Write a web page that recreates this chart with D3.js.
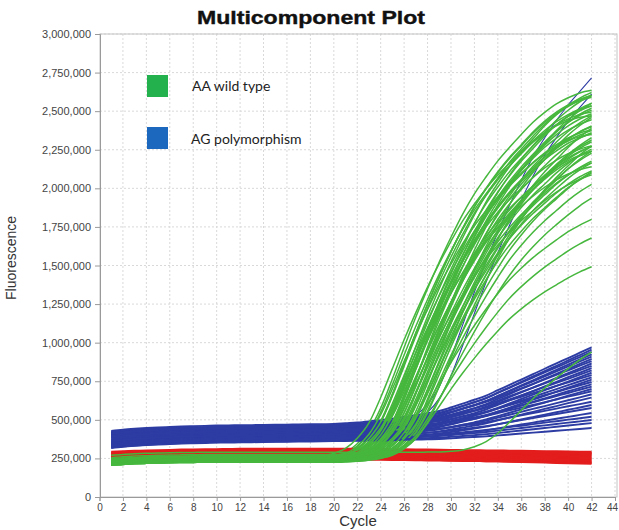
<!DOCTYPE html>
<html>
<head>
<meta charset="utf-8">
<script src="https://cdn.jsdelivr.net/npm/d3@7"></script>
<style>
  body { margin: 0; background: #fff; }
  svg { display: block; }
</style>
</head>
<body>
<svg id="chart" width="619" height="530"></svg>
<script>
// ---- Data (fluorescence in thousands, one value per cycle) ----
const cycles = [1,2,3,4,5,6,7,8,9,10,11,12,13,14,15,16,17,18,19,20,21,22,23,24,25,26,27,28,29,30,31,32,33,34,35,36,37,38,39,40,41,42];
const xTicks = [0,2,4,6,8,10,12,14,16,18,20,22,24,26,28,30,32,34,36,38,40,42,44];
const yTicks = [0,250000,500000,750000,1000000,1250000,1500000,1750000,2000000,2250000,2500000,2750000,3000000];
const legendLabels = ["AA wild type", "AG polymorphism"];
const unit = 1000;

// AA wild type wells (FAM-like signal, green)
const wildType = [
[230,236,240,243,245,247,248,249,250,250,250,250,250,250,250,250,250,252,256,267,290,345,433,576,766,969,1166,1350,1523,1683,1833,1964,2075,2178,2266,2349,2428,2492,2547,2587,2618,2635],
[220,226,230,233,235,237,238,239,240,240,240,240,240,240,240,240,240,242,246,256,278,330,413,548,728,920,1106,1280,1444,1595,1736,1860,1966,2063,2146,2225,2299,2360,2411,2450,2479,2495],
[240,246,250,253,255,257,258,259,260,260,260,260,260,260,260,260,260,260,263,269,283,318,388,493,668,866,1064,1250,1425,1588,1740,1879,1996,2101,2194,2275,2357,2427,2485,2532,2567,2590],
[210,216,220,223,225,227,228,229,230,230,230,230,230,230,230,230,230,230,233,239,252,284,348,445,606,789,972,1144,1305,1456,1595,1724,1832,1929,2015,2090,2165,2230,2283,2326,2359,2380],
[235,241,245,248,250,252,253,254,255,255,255,255,255,255,255,255,255,255,258,264,278,312,380,483,654,848,1042,1224,1395,1555,1703,1840,1954,2056,2147,2227,2307,2375,2432,2478,2512,2535],
[225,231,235,238,240,242,243,244,245,245,245,245,245,245,245,245,245,245,247,251,261,284,337,422,560,744,940,1131,1308,1476,1630,1775,1901,2009,2108,2193,2274,2350,2412,2465,2504,2534],
[245,251,255,258,260,262,263,264,265,265,265,265,265,265,265,265,265,265,267,271,280,301,349,427,553,721,899,1074,1235,1389,1529,1662,1777,1876,1966,2044,2117,2187,2243,2292,2327,2355],
[215,221,225,228,230,232,233,234,235,235,235,235,235,235,235,235,235,235,237,241,251,273,324,406,539,717,905,1090,1261,1423,1571,1711,1833,1938,2033,2115,2193,2266,2326,2377,2415,2444],
[230,236,240,243,245,247,248,249,250,250,250,250,250,250,250,250,250,250,252,255,264,284,330,404,524,684,854,1020,1174,1320,1454,1580,1690,1784,1870,1944,2014,2080,2134,2180,2214,2240],
[205,211,215,218,220,222,223,224,225,225,225,225,225,225,225,225,225,225,225,229,234,249,284,354,460,636,836,1036,1224,1400,1565,1717,1858,1976,2082,2176,2258,2340,2411,2469,2516,2552],
[250,256,260,263,265,267,268,269,270,270,270,270,270,270,270,270,270,270,270,273,279,292,324,388,485,646,829,1012,1184,1345,1496,1635,1764,1872,1969,2055,2130,2205,2270,2323,2366,2399],
[220,226,230,233,235,237,238,239,240,240,240,240,240,240,240,240,240,240,240,243,248,261,291,353,445,599,773,947,1111,1265,1409,1542,1665,1767,1860,1942,2013,2085,2147,2198,2239,2270],
[235,241,245,248,250,252,253,254,255,255,255,255,255,255,255,255,255,255,255,258,264,278,311,379,480,649,840,1031,1211,1380,1538,1684,1819,1931,2033,2123,2201,2280,2348,2404,2449,2483],
[225,231,235,238,240,242,243,244,245,245,245,245,245,245,245,245,245,245,245,247,251,260,282,333,414,546,722,909,1092,1261,1422,1569,1708,1829,1932,2027,2108,2185,2258,2317,2368,2405],
[210,216,220,223,225,227,228,229,230,230,230,230,230,230,230,230,230,230,230,232,236,245,265,313,390,515,681,858,1031,1191,1343,1482,1613,1728,1825,1915,1992,2065,2133,2189,2237,2273],
[240,246,250,253,255,257,258,259,260,260,260,260,260,260,260,260,260,260,260,262,266,276,299,352,437,575,759,955,1146,1323,1491,1645,1790,1916,2024,2123,2208,2289,2365,2427,2480,2519],
[230,236,240,243,245,247,248,249,250,250,250,250,250,250,250,250,250,250,250,252,255,264,283,328,400,517,673,839,1001,1151,1293,1424,1547,1654,1746,1830,1902,1970,2034,2087,2132,2165],
[255,261,265,268,270,272,273,274,275,275,275,275,275,275,275,275,275,275,275,275,278,284,298,331,399,500,669,860,1051,1231,1400,1558,1704,1839,1951,2053,2143,2221,2300,2368,2424,2469],
[215,221,225,228,230,232,233,234,235,235,235,235,235,235,235,235,235,235,235,235,238,243,256,288,352,447,606,786,966,1136,1295,1443,1581,1708,1814,1910,1995,2069,2143,2207,2260,2302],
[225,231,235,238,240,242,243,244,245,245,245,245,245,245,245,245,245,245,245,245,248,253,265,295,354,443,592,760,928,1087,1235,1374,1502,1621,1720,1809,1888,1958,2027,2086,2136,2176],
[240,246,250,253,255,257,258,259,260,260,260,260,260,260,260,260,260,260,260,260,264,269,284,319,389,495,671,871,1071,1259,1435,1600,1752,1893,2011,2117,2211,2293,2375,2446,2504,2551],
[205,211,215,218,220,222,223,224,225,225,225,225,225,225,225,225,225,225,225,225,227,231,240,262,312,393,524,698,883,1064,1232,1391,1537,1675,1795,1897,1991,2071,2148,2220,2279,2329],
[230,236,240,243,245,247,248,249,250,250,250,250,250,250,250,250,250,250,250,250,252,256,264,285,332,408,531,695,869,1039,1197,1347,1484,1613,1726,1822,1911,1986,2058,2126,2181,2228],
[245,251,255,258,260,262,263,264,265,265,265,265,265,265,265,265,265,265,265,265,267,270,278,297,341,411,525,677,839,997,1143,1282,1409,1529,1633,1722,1804,1874,1941,2004,2055,2099],
[220,226,230,233,235,237,238,239,240,240,240,240,240,240,240,240,240,240,240,240,240,243,249,263,296,364,465,634,825,1016,1196,1365,1523,1669,1804,1916,2018,2108,2186,2265,2333,2389],
[235,241,245,248,250,252,253,254,255,255,255,255,255,255,255,255,255,255,255,255,255,258,263,276,307,369,463,619,796,973,1139,1295,1441,1576,1701,1805,1898,1981,2054,2127,2189,2241],
[210,216,220,223,225,227,228,229,230,230,230,230,230,230,230,230,230,230,230,230,230,233,238,249,277,333,418,559,719,879,1029,1170,1302,1424,1537,1631,1715,1790,1856,1922,1978,2025],
[230,236,240,243,245,247,248,249,250,250,250,250,250,250,250,250,250,250,250,250,250,252,256,265,287,336,416,545,717,899,1078,1243,1400,1544,1680,1798,1899,1992,2071,2146,2217,2275],
[225,231,235,238,240,242,243,244,245,245,245,245,245,245,245,245,245,245,245,245,245,248,253,265,294,352,440,586,752,918,1074,1220,1357,1483,1600,1698,1786,1864,1932,2000,2059,2107],
[215,221,225,228,230,232,233,234,235,235,235,235,235,235,235,235,235,235,235,235,237,240,249,269,315,389,509,669,839,1005,1159,1305,1439,1565,1675,1769,1855,1929,1999,2065,2119,2165],
[240,246,250,253,255,257,258,259,260,260,260,260,260,260,260,260,260,263,269,282,315,381,480,645,832,1019,1195,1360,1514,1657,1789,1899,1998,2086,2163,2240,2306,2361,2405,2438,2460,2471],
[220,226,230,233,235,237,238,239,240,240,240,240,240,240,240,240,240,240,243,248,259,288,345,430,573,734,896,1048,1190,1323,1447,1561,1656,1741,1817,1884,1950,2007,2055,2093,2121,2140],
[235,241,245,248,250,252,253,254,255,255,255,255,255,255,255,255,255,255,255,258,262,274,301,357,440,579,736,893,1041,1180,1310,1430,1541,1633,1717,1791,1855,1920,1976,2022,2059,2087],
[225,231,235,238,240,242,243,244,245,245,245,245,245,245,245,245,245,245,245,249,255,269,305,377,485,665,869,1073,1265,1445,1613,1769,1913,2033,2141,2237,2321,2405,2477,2537,2585,2621],
[245,251,255,258,260,262,263,264,265,265,265,265,265,265,265,265,265,265,265,265,268,273,286,318,381,475,633,811,990,1158,1315,1462,1599,1725,1830,1924,2008,2082,2155,2218,2271,2313],
[230,236,240,243,245,247,248,249,250,250,250,250,250,250,250,250,250,250,250,250,250,252,255,263,283,322,380,478,588,699,803,900,991,1076,1154,1219,1277,1329,1375,1420,1459,1492],
[225,231,235,238,240,242,243,244,245,245,245,245,245,245,245,245,245,245,245,245,245,247,251,260,283,328,395,508,635,763,883,995,1100,1198,1288,1363,1430,1490,1543,1595,1640,1678],
[235,241,245,248,250,252,253,254,255,255,255,255,255,255,255,255,255,255,255,255,257,259,266,282,319,378,474,602,738,871,994,1111,1218,1319,1407,1482,1551,1610,1666,1719,1762,1799],
[220,226,230,233,235,237,238,239,240,240,240,240,240,240,240,240,240,240,240,240,240,242,245,253,271,312,379,487,631,784,933,1072,1203,1324,1437,1536,1621,1698,1765,1828,1887,1936],
[270,276,280,283,285,287,288,289,290,290,290,290,290,290,290,290,290,290,290,290,290,290,290,290,290,290,290,291,292,296,305,326,359,413,485,562,637,706,772,832,889,938],
[230,236,240,243,245,247,248,249,250,250,250,250,250,250,250,250,250,250,254,259,274,309,379,485,661,861,1061,1249,1425,1590,1742,1883,2001,2107,2201,2283,2365,2436,2494,2541,2577,2600],
[215,221,225,228,230,232,233,234,235,235,235,235,235,235,235,235,235,235,237,241,250,272,321,401,530,702,884,1063,1228,1385,1529,1665,1783,1884,1977,2056,2131,2202,2260,2310,2346,2374],
[240,246,250,253,255,257,258,259,260,260,260,260,260,260,260,260,260,260,260,263,268,280,310,370,460,610,780,950,1110,1260,1400,1530,1650,1750,1840,1920,1990,2060,2120,2170,2210,2240],
[225,231,235,238,240,242,243,244,245,245,245,245,245,245,245,245,245,245,245,247,251,262,286,341,430,574,766,970,1169,1354,1529,1690,1841,1973,2086,2189,2278,2362,2441,2506,2561,2602],
[235,241,245,248,250,252,253,254,255,255,255,255,255,255,255,255,255,255,255,255,258,263,276,306,368,460,614,788,962,1126,1280,1424,1557,1680,1782,1875,1957,2028,2100,2162,2213,2254],
[210,216,220,223,225,227,228,229,230,230,230,230,230,230,230,230,230,230,230,233,239,253,288,357,460,633,828,1024,1208,1380,1541,1691,1829,1944,2047,2139,2220,2300,2369,2427,2473,2507],
[245,251,255,258,260,262,263,264,265,265,265,265,265,265,265,265,265,265,267,271,281,305,359,446,587,775,975,1170,1351,1522,1680,1828,1957,2067,2169,2255,2338,2415,2479,2533,2573,2603],
[220,226,230,233,235,237,238,239,240,240,240,240,240,240,240,240,240,240,240,240,242,246,256,279,332,417,555,739,935,1126,1303,1471,1625,1770,1896,2004,2103,2188,2269,2345,2407,2460],
[230,236,240,243,245,247,248,249,250,250,250,250,250,250,250,250,250,250,250,252,256,265,287,336,416,545,717,899,1078,1243,1400,1544,1680,1798,1899,1992,2071,2146,2217,2275,2325,2361],
[205,211,215,218,220,222,223,224,225,225,225,225,225,225,225,225,225,225,228,233,246,276,338,430,584,758,932,1096,1250,1394,1527,1650,1752,1845,1927,1998,2070,2132,2183,2224,2255,2275],
[240,246,250,253,255,257,258,259,260,260,260,260,260,260,260,260,260,260,260,260,263,268,279,308,365,450,593,754,916,1068,1210,1343,1467,1581,1676,1761,1837,1904,1970,2027,2075,2113],
[225,231,235,238,240,242,243,244,245,245,245,245,245,245,245,245,245,247,251,260,281,329,407,533,701,879,1054,1215,1369,1509,1642,1757,1856,1946,2024,2097,2167,2223,2272,2307,2335,2349]
];

// AG polymorphism wells (VIC-like signal, blue)
const polymorphism = [
[428,436,442,447,451,454,457,459,461,463,464,465,466,467,468,469,470,471,472,473,478,483,490,498,508,518,530,543,557,580,605,630,657,692,726,761,796,831,866,900,935,970],
[412,420,426,431,435,438,441,443,445,447,448,449,450,451,452,453,454,455,456,457,462,467,474,482,492,502,514,527,542,564,589,614,641,676,711,746,781,816,850,885,920,955],
[420,428,434,439,443,446,449,451,453,455,456,457,458,459,460,461,462,463,464,465,470,475,482,489,498,508,520,532,546,567,591,615,641,674,707,741,774,807,840,874,907,940],
[398,406,412,417,421,424,427,429,431,433,434,435,436,437,438,439,440,441,442,443,448,453,460,467,477,486,498,510,525,547,571,595,621,655,689,723,756,790,824,858,891,925],
[408,416,422,427,431,434,437,439,441,443,444,445,446,447,448,449,450,451,452,453,458,462,469,476,485,494,506,517,531,551,574,597,622,654,686,718,750,782,814,846,878,910],
[385,393,399,404,408,411,414,416,418,420,421,422,423,424,425,426,427,428,429,430,435,439,446,453,463,472,483,495,509,530,553,576,602,635,667,700,732,765,797,830,862,895],
[416,424,430,435,439,442,445,447,449,451,452,453,454,455,456,457,458,459,460,461,465,469,476,482,490,499,509,520,532,551,572,593,616,645,675,704,733,763,792,821,851,880],
[375,383,389,394,398,401,404,406,408,410,411,412,413,414,415,416,417,418,419,420,424,429,436,442,451,460,471,482,496,516,538,560,585,616,647,678,709,740,772,803,834,865],
[402,410,416,421,425,428,431,433,435,437,438,439,440,441,442,443,444,445,446,447,451,455,461,467,475,483,493,503,516,534,554,574,596,624,653,681,709,737,765,794,822,850],
[365,373,379,384,388,391,394,396,398,400,401,402,403,404,405,406,407,408,409,410,414,419,425,431,440,448,459,470,482,501,523,544,567,597,627,657,686,716,746,776,805,835],
[392,400,406,411,415,418,421,423,425,427,428,429,430,431,432,433,434,435,436,437,441,445,450,456,464,471,481,491,502,519,538,558,579,606,632,659,686,713,740,766,793,820],
[355,363,369,374,378,381,384,386,388,390,391,392,393,394,395,396,397,398,399,400,404,408,414,420,428,436,447,457,469,487,507,528,550,578,607,635,663,692,720,748,777,805],
[410,418,424,429,433,436,439,441,443,445,446,447,448,449,450,451,452,453,454,455,458,462,467,472,478,485,494,502,512,527,544,561,579,602,626,649,673,696,720,743,767,790],
[370,378,384,389,393,396,399,401,403,405,406,407,408,409,410,411,412,413,414,415,419,422,428,433,440,447,456,465,476,492,510,528,548,573,599,624,649,674,699,725,750,775],
[345,353,359,364,368,371,374,376,378,380,381,382,383,384,385,386,387,388,389,390,394,397,403,409,416,423,433,442,453,470,488,507,527,553,579,605,631,656,682,708,734,760],
[395,403,409,414,418,421,424,426,428,430,431,432,433,434,435,436,437,438,439,440,443,446,451,455,461,467,475,483,492,506,521,536,553,574,596,617,638,660,681,702,724,745],
[360,368,374,379,383,386,389,391,393,395,396,397,398,399,400,401,402,403,404,405,408,412,416,421,428,434,442,451,460,475,491,507,525,548,571,594,616,639,662,685,707,730],
[380,388,394,399,403,406,409,411,413,415,416,417,418,419,420,421,422,423,424,425,428,431,435,440,445,451,458,466,474,487,502,516,532,553,573,593,614,634,654,674,695,715],
[340,348,354,359,363,366,369,371,373,375,376,377,378,379,380,381,382,383,384,385,388,391,396,401,407,413,421,429,439,453,468,484,502,524,546,568,590,612,634,656,678,700],
[388,396,402,407,411,414,417,419,421,423,424,425,426,427,428,429,430,431,432,433,436,438,442,446,451,456,462,468,476,487,500,512,526,544,562,579,597,614,632,650,667,685],
[350,358,364,369,373,376,379,381,383,385,386,387,388,389,390,391,392,393,394,395,398,400,404,409,414,419,426,433,441,453,467,480,495,514,533,552,571,589,608,627,646,665],
[335,343,349,354,358,361,364,366,368,370,371,372,373,374,375,376,377,378,379,380,383,385,389,393,399,404,410,417,425,437,450,463,478,497,515,534,552,571,589,608,626,645],
[362,370,376,381,385,388,391,393,395,397,398,399,400,401,402,403,404,405,406,407,409,411,414,418,422,426,431,436,443,452,463,473,485,499,514,529,544,558,573,588,602,617],
[328,336,342,347,351,354,357,359,361,363,364,365,366,367,368,369,370,371,372,373,375,377,381,384,389,393,399,404,411,421,432,443,456,471,487,502,518,534,549,565,580,596],
[345,353,359,364,368,371,374,376,378,380,381,382,383,384,385,386,387,388,389,390,392,394,397,399,403,407,412,416,422,430,440,449,459,472,485,498,512,525,538,551,564,577],
[322,330,336,341,345,348,351,353,355,357,358,359,360,361,362,363,364,365,366,367,369,371,373,376,379,383,387,392,397,405,414,423,432,445,457,470,482,494,507,519,532,544],
[338,346,352,357,361,364,367,369,371,373,374,375,376,377,378,379,380,381,382,383,384,386,388,390,393,395,399,402,406,412,419,426,434,443,453,462,472,482,491,501,510,520],
[330,338,344,349,353,356,359,361,363,365,366,367,368,369,370,371,372,373,374,375,376,377,379,381,384,386,389,392,396,402,408,414,421,430,438,447,456,464,473,482,490,499],
[320,328,334,339,343,346,349,351,353,355,356,357,358,359,360,361,362,363,364,365,366,367,369,371,373,375,378,381,384,390,395,401,407,415,423,431,439,447,455,463,471,479],
[317,325,331,336,340,343,346,348,350,352,353,354,355,356,357,358,359,360,361,362,363,364,365,366,368,370,372,374,376,380,385,389,393,399,405,411,417,423,429,435,441,447],
[420,428,434,439,443,446,449,451,453,455,456,457,458,459,460,461,462,463,464,465,465,465,466,469,475,490,528,603,715,903,1115,1328,1528,1715,1890,2053,2203,2328,2440,2540,2628,2715],
[405,413,419,424,428,431,434,436,438,440,441,442,443,444,445,446,447,448,449,450,450,450,450,452,457,467,492,548,639,786,982,1190,1393,1582,1761,1925,2079,2214,2329,2435,2525,2611]
];

// Passive reference dye (red), flat across the run
const passiveRef = [
[293,296,299,301,303,305,307,308,309,310,311,312,312,313,313,313,313,313,313,313,312,312,311,311,310,309,308,307,306,305,304,303,302,301,300,299,298,297,296,295,294,293],
[288,291,293,295,297,299,300,301,302,303,304,305,305,305,305,305,305,305,304,304,304,303,303,302,302,301,300,299,298,297,296,295,294,293,292,291,290,289,288,287,286,285],
[283,286,288,290,292,294,295,296,297,298,299,300,300,300,300,300,299,299,299,298,298,297,296,295,294,293,292,291,290,289,288,287,286,285,284,283,282,281,280,279,278,277],
[280,282,284,286,288,289,290,291,292,293,294,294,294,294,294,294,293,293,292,292,291,290,289,288,287,286,285,284,283,282,281,280,279,278,277,276,275,274,273,272,271,270],
[276,278,280,282,283,284,285,286,287,288,288,288,288,288,288,287,287,286,286,285,284,283,282,281,280,279,278,277,276,275,274,273,272,271,270,269,268,267,266,265,264,263],
[272,274,276,277,278,279,280,281,281,282,282,282,282,282,281,281,280,280,279,278,277,276,275,274,273,272,271,270,269,268,267,266,265,264,263,262,261,260,259,258,257,256],
[268,270,271,272,273,274,275,275,276,276,276,276,276,275,275,274,274,273,272,271,270,269,268,267,266,265,264,263,262,261,260,259,258,257,256,255,254,253,252,251,250,249],
[265,266,267,268,269,270,270,271,271,271,271,271,270,270,269,268,268,267,266,265,264,263,262,261,260,258,257,256,255,254,253,252,250,249,248,247,246,245,244,243,242,241],
[262,263,264,265,265,266,266,266,266,266,266,265,265,264,263,262,261,260,259,258,257,256,255,254,253,252,250,249,248,247,246,245,243,242,241,240,239,238,237,236,235,234],
[259,260,260,261,261,261,261,261,261,260,260,259,258,257,256,255,254,253,252,251,250,249,248,247,246,244,243,242,241,240,239,238,236,235,234,233,232,230,229,228,227,226],
[257,257,257,257,257,257,256,256,255,255,254,253,252,251,250,249,248,247,246,245,244,243,242,241,240,239,238,237,236,235,234,233,232,231,230,229,228,226,225,224,222,220],
[270,273,276,279,281,283,285,287,289,290,291,292,293,293,294,294,294,294,294,294,294,293,293,293,292,292,291,291,290,290,289,289,288,288,287,287,286,286,285,285,284,284],
[262,263,264,264,264,264,264,263,263,262,261,260,259,258,257,256,255,254,252,251,250,249,247,246,245,243,242,240,239,237,236,234,232,231,229,227,225,223,221,219,217,215]
];

// ---- Layout ----
const W = 619, H = 530;
const plot = { left: 100, top: 34, right: 617, bottom: 497 };

const svg = d3.select("#chart");
svg.append("rect").attr("width", W).attr("height", H).attr("fill", "#fff");

const x = d3.scaleLinear().domain([0, 44]).range([99.5, 615]);
const y = d3.scaleLinear().domain([0, 3000000]).range([plot.bottom, plot.top]);

// Title
svg.append("text")
  .attr("x", 311).attr("y", 24)
  .attr("text-anchor", "middle")
  .attr("font-family", "'Liberation Sans', Arial, sans-serif")
  .attr("font-weight", "bold")
  .attr("font-size", 19)
  .attr("textLength", 228)
  .attr("lengthAdjust", "spacingAndGlyphs")
  .attr("stroke", "#111").attr("stroke-width", 0.4)
  .attr("fill", "#111")
  .text("Multicomponent Plot");

// Grid
const grid = svg.append("g").attr("class", "grid");
grid.selectAll("line.v").data(xTicks.filter(d => d > 0)).join("line")
  .attr("x1", d => x(d)).attr("x2", d => x(d))
  .attr("y1", plot.top).attr("y2", plot.bottom)
  .attr("stroke", "#d9d9d9").attr("stroke-width", 1).attr("stroke-dasharray", "2,2");
grid.selectAll("line.h").data(yTicks.filter(d => d > 0)).join("line")
  .attr("x1", plot.left).attr("x2", plot.right)
  .attr("y1", d => y(d)).attr("y2", d => y(d))
  .attr("stroke", "#d9d9d9").attr("stroke-width", 1).attr("stroke-dasharray", "2,2");

// Plot frame
svg.append("rect")
  .attr("x", plot.left).attr("y", plot.top)
  .attr("width", plot.right - plot.left).attr("height", plot.bottom - plot.top)
  .attr("fill", "none").attr("stroke", "#c4c4c4").attr("stroke-width", 1);

// Curves, interleaved by well so colours overlap naturally
svg.append("defs").append("clipPath").attr("id", "plotClip")
  .append("rect").attr("x", plot.left).attr("y", plot.top)
  .attr("width", plot.right - plot.left).attr("height", plot.bottom - plot.top);

const line = d3.line()
  .x((d, i) => x(cycles[i]))
  .y(d => y(d * unit))
  .curve(d3.curveMonotoneX);

// wells that amplify strongly in the blue channel get a thin trace, drawn first
const strongBlue = vals => d3.max(vals) > 1500;

const wells = [];
polymorphism.filter(strongBlue).forEach(v => wells.push({ values: v, color: "#2d3ca3", width: 1.1 }));
const n = Math.max(wildType.length, polymorphism.length, passiveRef.length);
for (let i = 0; i < n; i++) {
  if (i < wildType.length) wells.push({ values: wildType[i], color: "#46b73d", width: 1.5 });
  if (i < polymorphism.length && !strongBlue(polymorphism[i])) wells.push({ values: polymorphism[i], color: "#2d3ca3", width: 1.9 });
  if (i < passiveRef.length) wells.push({ values: passiveRef[i], color: "#e31c1c", width: 2 });
}

svg.append("g").attr("clip-path", "url(#plotClip)")
  .selectAll("path").data(wells).join("path")
  .attr("d", d => line(d.values))
  .attr("fill", "none")
  .attr("stroke", d => d.color)
  .attr("stroke-width", d => d.width)
  .attr("stroke-linejoin", "round");

// Axes
const yAxis = svg.append("g")
  .attr("transform", `translate(${plot.left},0)`)
  .call(d3.axisLeft(y).tickValues(yTicks).tickFormat(d3.format(",")).tickSize(5).tickPadding(4));
const xAxis = svg.append("g")
  .attr("transform", `translate(0,${plot.bottom})`)
  .call(d3.axisBottom(x).tickValues(xTicks).tickFormat(d3.format("d")).tickSize(4).tickPadding(3));

[yAxis, xAxis].forEach(g => {
  g.select(".domain").attr("stroke", "#9a9a9a");
  g.selectAll(".tick line").attr("stroke", "#9a9a9a");
  g.selectAll(".tick text")
    .attr("font-family", "'Liberation Sans', Arial, sans-serif")
    .attr("fill", "#444");
});
yAxis.selectAll(".tick text").attr("font-size", 11);
xAxis.selectAll(".tick text").attr("font-size", 10);
// keep the last cycle label inside the page
xAxis.selectAll(".tick text").filter(d => d === 44).attr("dx", -3);

// Axis titles
svg.append("text")
  .attr("transform", "translate(16,258) rotate(-90)")
  .attr("text-anchor", "middle")
  .attr("font-family", "'Liberation Sans', Arial, sans-serif")
  .attr("font-size", 14)
  .attr("fill", "#333")
  .text("Fluorescence");
svg.append("text")
  .attr("x", 358).attr("y", 526)
  .attr("text-anchor", "middle")
  .attr("font-family", "'Liberation Sans', Arial, sans-serif")
  .attr("font-size", 15)
  .attr("fill", "#333")
  .text("Cycle");

// Legend
const legendColors = ["#22b14c", "#1c68bf"];
const legendRows = [{ ry: 75, ty: 91, tx: 192 }, { ry: 127, ty: 144, tx: 191 }];
const legend = svg.append("g");
legendLabels.forEach((label, i) => {
  legend.append("rect")
    .attr("x", 147).attr("y", legendRows[i].ry)
    .attr("width", 21).attr("height", 22)
    .attr("fill", legendColors[i]);
  legend.append("text")
    .attr("x", legendRows[i].tx).attr("y", legendRows[i].ty)
    .attr("font-family", "Lato, 'Open Sans', sans-serif")
    .attr("font-size", 14)
    .attr("fill", "#222")
    .text(label);
});
</script>
</body>
</html>
